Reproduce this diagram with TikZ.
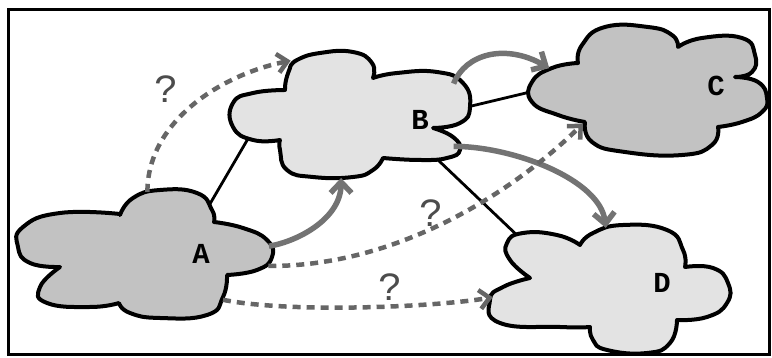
\documentclass[tikz,border=0pt]{standalone}
\usepackage{fontspec}
\newfontfamily\monofont{Liberation Mono}
\usetikzlibrary{shapes.geometric,arrows.meta}
\begin{document}
\begin{tikzpicture}[x=1pt,y=-1pt,
  hub/.style={ellipse, inner sep=0pt},
  outline/.style={draw=black, line width=4pt, line join=round},
  darkfill/.style={outline, fill=black!24},
  lightfill/.style={outline, fill=black!11},
  lobe/.style={smooth, tension=0.85},
  tag/.style={font=\monofont\bfseries\fontsize{29}{29}\selectfont, inner sep=0pt},
  ask/.style={font=\monofont\fontsize{40}{40}\selectfont, text=black!70, inner sep=0pt},
  link/.style={line width=2.8pt, draw=black, shorten <=-8pt, shorten >=-8pt},
  flow/.style={line width=5.5pt, draw=black!55, -{Straight Barb[length=11pt,width=21pt]}},
  guess/.style={line width=4.5pt, draw=black!60, dash pattern=on 8pt off 6pt, -{Straight Barb[length=10pt,width=19pt]}}]
\useasboundingbox (0,0) rectangle (772,358);
\draw[line width=3pt] (8,10) rectangle (769,355);

% anchor bodies of the four clouds
\node[hub, minimum width=254pt, minimum height=126pt] (A) at (143,255) {};
\node[hub, minimum width=236pt, minimum height=126pt] (B) at (351,115) {};
\node[hub, minimum width=236pt, minimum height=128pt] (C) at (648,90) {};
\node[hub, minimum width=238pt, minimum height=128pt] (D) at (611,289) {};

% direct links (tucked under the clouds)
\draw[link] (A.38) -- (B.195);
\draw[link] (B.4) -- (C.181);
\draw[link] (B.-27) -- (D.152);

% cloud A
\path[darkfill]
  plot[lobe] coordinates {(120,215) (133,198) (160,190) (197,193) (212,210) (214,222)}
  -- plot[lobe] coordinates {(214,222) (243,228) (267,240) (272,257) (257,270) (227,275)}
  -- plot[lobe] coordinates {(227,275) (223,297) (207,315) (160,318) (130,313) (119,303)}
  -- plot[lobe] coordinates {(119,303) (90,307) (47,303) (40,287) (60,267)}
  -- plot[lobe] coordinates {(60,267) (30,263) (18,247) (23,227) (60,213) (120,214)}
  -- cycle;
% cloud B
\path[lightfill]
  plot[lobe] coordinates {(290,68) (297,60) (320,53) (353,52) (372,63) (373,78)}
  -- plot[lobe] coordinates {(373,78) (397,73) (437,72) (463,83) (470,107) (460,123) (433,128)}
  -- plot[lobe] coordinates {(433,128) (453,137) (460,150) (447,158) (420,160) (383,158)}
  -- plot[lobe] coordinates {(383,158) (373,170) (353,177) (313,177) (287,170) (280,150) (280,140)}
  -- plot[lobe] coordinates {(280,140) (253,140) (233,127) (233,103) (253,93) (285,90)}
  -- plot[lobe] coordinates {(285,90) (286,80) (290,68)}
  -- cycle;
% cloud C
\path[darkfill]
  plot[lobe] coordinates {(578,63) (582,45) (605,27) (648,27) (672,35) (678,47)}
  -- plot[lobe] coordinates {(678,47) (702,38) (742,38) (755,55) (752,72) (735,77)}
  -- plot[lobe] coordinates {(735,77) (758,82) (767,98) (762,112) (742,122) (718,127)}
  -- plot[lobe] coordinates {(718,127) (712,145) (682,155) (625,152) (592,142) (585,122)}
  -- plot[lobe] coordinates {(585,122) (558,115) (532,102) (532,82) (552,68) (578,63)}
  -- cycle;
% cloud D
\path[lightfill]
  plot[lobe] coordinates {(580,245) (593,233) (623,225) (667,230) (683,250) (685,267)}
  -- plot[lobe] coordinates {(685,267) (713,268) (728,283) (727,303) (707,317) (677,320)}
  -- plot[lobe] coordinates {(677,320) (670,343) (647,353) (607,350) (593,340) (590,327)}
  -- plot[lobe] coordinates {(590,327) (560,327) (500,323) (490,300) (503,287) (530,278)}
  -- plot[lobe] coordinates {(530,278) (510,260) (507,243) (523,233) (557,235) (580,245)}
  -- cycle;

\node[tag] (la) at (201,254) {A};
\node[tag] (lb) at (420,120) {B};
\node[tag] (lc) at (716,86) {C};
\node[tag] (ld) at (662,283) {D};

% known flows
\draw[flow] (A.4) .. controls +(30,-5) and +(0,40) .. (B.-99);
\draw[flow, shorten >=-10pt] (B.17) .. controls +(12,-30) and +(-35,-20) .. (C.166);
\draw[flow, shorten >=-3pt] (B.-17) .. controls +(60,0) and +(-5,-45) .. (D.95);

% uncertain flows
\draw[guess] (A.86) .. controls +(0,-70) and +(-70,14) .. (B.138);
\draw[guess, shorten >=-20pt] (A.-5) .. controls +(130,1) and +(-54,53) .. (C.-149);
\draw[guess, shorten <=-7pt] (A.-28) .. controls +(60,12) and +(-60,10) .. (D.184);

\node[ask] (q1) at (167,89) {?};
\node[ask] (q2) at (431,213) {?};
\node[ask] (q3) at (390,287) {?};
\end{tikzpicture}
\end{document}
